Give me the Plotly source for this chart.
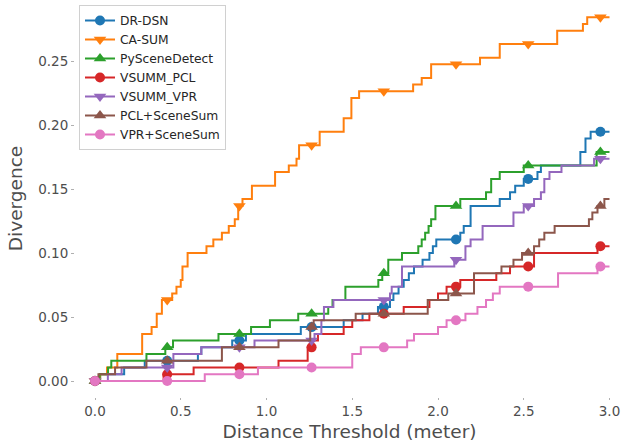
import numpy as np
import plotly.graph_objects as go

# Step curves: each series is a list of thresholds where the divergence
# changes and the divergence value held from that threshold onwards.
DRDSN_X = [0, 0.03, 0.17, 0.29, 0.60, 0.62, 0.80, 0.88, 1.20, 1.45, 1.56, 1.65, 1.72, 1.74,
           1.77, 1.80, 1.83, 1.86, 1.91, 1.95, 1.97, 1.99, 2.13, 2.15, 2.19, 2.36, 2.42, 2.45,
           2.50, 2.58, 2.60, 2.83, 2.86, 2.89, 3.0]
DRDSN_Y = [0, 0.0053, 0.0105, 0.0158, 0.0211, 0.0263, 0.0316, 0.0368, 0.0421, 0.0474, 0.0526,
           0.0579, 0.0632, 0.0684, 0.0737, 0.0789, 0.0842, 0.0895, 0.0947, 0.1, 0.1053, 0.1105,
           0.1158, 0.1211, 0.1368, 0.1421, 0.1474, 0.1526, 0.1579, 0.1632, 0.1684, 0.1789,
           0.1895, 0.1947, 0.1947]

CASUM_X = [0, 0.03, 0.07, 0.13, 0.275, 0.33, 0.36, 0.39, 0.45, 0.475, 0.5, 0.51, 0.54, 0.65,
           0.69, 0.74, 0.78, 0.815, 0.835, 0.86, 0.915, 1.05, 1.13, 1.175, 1.19, 1.31, 1.45,
           1.495, 1.54, 1.855, 1.905, 1.96, 2.245, 2.36, 2.695, 2.845, 2.87, 3.0]
CASUM_Y = [0, 0.0053, 0.0105, 0.0211, 0.0368, 0.0421, 0.0526, 0.0632, 0.0684, 0.0737, 0.0789,
           0.0895, 0.1, 0.1053, 0.1105, 0.1158, 0.1211, 0.1263, 0.1368, 0.1421, 0.1526, 0.1632,
           0.1684, 0.1737, 0.1842, 0.1947, 0.2053, 0.2211, 0.2263, 0.2316, 0.2368, 0.2474,
           0.2526, 0.2632, 0.2737, 0.2789, 0.2842, 0.2842]

PYSCENE_X = [0, 0.027, 0.076, 0.095, 0.30, 0.41, 0.455, 0.72, 0.91, 1.02, 1.185, 1.36, 1.385,
             1.46, 1.652, 1.675, 1.71, 1.79, 1.885, 1.905, 1.925, 1.945, 1.96, 1.985, 2.13,
             2.28, 2.31, 2.36, 2.5, 2.925, 3.0]
PYSCENE_Y = [0, 0.0053, 0.0105, 0.0158, 0.0211, 0.0263, 0.0316, 0.0368, 0.0421, 0.0474, 0.0526,
             0.0579, 0.0632, 0.0737, 0.0789, 0.0842, 0.0947, 0.1, 0.1053, 0.1105, 0.1158,
             0.1211, 0.1263, 0.1368, 0.1421, 0.1474, 0.1579, 0.1632, 0.1684, 0.1789, 0.1789]

VSPCL_X = [0, 0.40, 0.575, 1.07, 1.24, 1.27, 1.30, 1.45, 1.50, 1.60, 1.80, 1.95, 2.0, 2.05,
           2.13, 2.34, 2.42, 2.56, 2.93, 3.0]
VSPCL_Y = [0, 0.0053, 0.0105, 0.0158, 0.0263, 0.0316, 0.0368, 0.0421, 0.0474, 0.0526, 0.0579,
           0.0632, 0.0684, 0.0737, 0.0789, 0.0842, 0.0895, 0.1, 0.1053, 0.1053]

VSVPR_X = [0, 0.075, 0.155, 0.457, 0.62, 0.93, 1.28, 1.32, 1.335, 1.39, 1.72, 1.73, 1.79,
           2.095, 2.16, 2.19, 2.26, 2.44, 2.50, 2.56, 2.60, 2.62, 2.65, 2.72, 2.91, 3.0]
VSVPR_Y = [0, 0.0053, 0.0105, 0.0211, 0.0263, 0.0316, 0.0368, 0.0474, 0.0579, 0.0632, 0.0684,
           0.0737, 0.0895, 0.0947, 0.1053, 0.1105, 0.1211, 0.1316, 0.1368, 0.1421, 0.1474,
           0.1579, 0.1632, 0.1684, 0.1737, 0.1737]

PCLSS_X = [0, 0.02, 0.117, 0.30, 0.74, 1.07, 1.255, 1.275, 1.52, 1.94, 2.06, 2.21, 2.37, 2.44,
           2.49, 2.56, 2.59, 2.62, 2.68, 2.88, 2.90, 2.93, 2.97, 3.0]
PCLSS_Y = [0, 0.0053, 0.0105, 0.0158, 0.0263, 0.0316, 0.0421, 0.0474, 0.0526, 0.0632, 0.0684,
           0.0842, 0.0895, 0.0947, 0.1, 0.1053, 0.1105, 0.1158, 0.1211, 0.1263, 0.1316, 0.1368,
           0.1421, 0.1421]

VPRSS_X = [0, 0.64, 0.95, 1.50, 1.55, 1.82, 1.86, 2.0, 2.05, 2.16, 2.23, 2.28, 2.32, 2.36,
           2.70, 2.93, 3.0]
VPRSS_Y = [0, 0.0053, 0.0105, 0.0211, 0.0263, 0.0316, 0.0368, 0.0421, 0.0474, 0.0526, 0.0579,
           0.0632, 0.0684, 0.0737, 0.0842, 0.0895, 0.0895]

# thresholds at which markers are shown
MARK_X = [0, 0.421, 0.842, 1.263, 1.684, 2.105, 2.526, 2.947]

NAMES = ["DR-DSN", "CA-SUM", "PySceneDetect", "VSUMM_PCL", "VSUMM_VPR",
         "PCL+SceneSum", "VPR+SceneSum"]
SERIES_X = [DRDSN_X, CASUM_X, PYSCENE_X, VSPCL_X, VSVPR_X, PCLSS_X, VPRSS_X]
SERIES_Y = [DRDSN_Y, CASUM_Y, PYSCENE_Y, VSPCL_Y, VSVPR_Y, PCLSS_Y, VPRSS_Y]
COLORS = ["#1f77b4", "#ff7f0e", "#2ca02c", "#d62728", "#9467bd", "#8c564b", "#e377c2"]
SYMBOLS = ["circle", "triangle-down", "triangle-up", "circle", "triangle-down",
           "triangle-up", "circle"]
SIZES = [10, 11, 11, 10, 11, 11, 10]

FONT = "DejaVu Sans"

fig = go.Figure()

for name, xs, ys, col, sym, sz in zip(NAMES, SERIES_X, SERIES_Y, COLORS, SYMBOLS, SIZES):
    xs_a = np.asarray(xs, dtype=float)
    ys_a = np.asarray(ys, dtype=float)
    mx = np.asarray(MARK_X, dtype=float)
    idx = np.searchsorted(xs_a, mx, side="right") - 1
    my = ys_a[idx]
    fig.add_trace(go.Scatter(
        x=xs_a, y=ys_a, mode="lines", line=dict(color=col, width=2, shape="hv"),
        showlegend=False, legendgroup=name, hoverinfo="skip"))
    fig.add_trace(go.Scatter(
        x=mx, y=my, mode="markers",
        marker=dict(color=col, symbol=sym, size=sz, line=dict(width=0)),
        showlegend=False, legendgroup=name))
    # legend entry (line with marker)
    fig.add_trace(go.Scatter(
        x=[None], y=[None], mode="lines+markers", name=name, legendgroup=name,
        line=dict(color=col, width=2),
        marker=dict(color=col, symbol=sym, size=sz, line=dict(width=0))))

W, H = 624, 442
L, R, T, B = 75, 0, 0, 45
plot_w = W - L - R
plot_h = H - T - B
px_per_x = 171.5
px_per_y = 1280.0
x0 = -20 / px_per_x
x1 = x0 + plot_w / px_per_x
y0 = -(plot_h - 381) / px_per_y
y1 = y0 + plot_h / px_per_y

tick_font = dict(family=FONT, size=13.5, color="#4d4d4d")
title_font = dict(family=FONT, size=18.5, color="#4d4d4d")

fig.update_layout(
    width=W, height=H,
    margin=dict(l=L, r=R, t=T, b=B, pad=0),
    paper_bgcolor="white", plot_bgcolor="white",
    font=dict(family=FONT),
    showlegend=True,
    legend=dict(
        x=(79 - L) / plot_w, y=1 - 5 / plot_h,
        xanchor="left", yanchor="top",
        bgcolor="rgba(255,255,255,0.85)", bordercolor="#d0d0d0", borderwidth=1,
        font=dict(family=FONT, size=12.3, color="#262626"),
        tracegroupgap=0,
    ),
    xaxis=dict(
        range=[x0, x1], showgrid=False, zeroline=False, showline=False,
        tickmode="array", tickvals=[0, 0.5, 1.0, 1.5, 2.0, 2.5, 3.0],
        ticktext=["0.0", "0.5", "1.0", "1.5", "2.0", "2.5", "3.0"],
        ticks="outside", ticklen=2, tickwidth=1, tickcolor="#b0b0b0",
        tickfont=tick_font,
        title=dict(text="Distance Threshold (meter)", font=title_font, standoff=6),
    ),
    yaxis=dict(
        range=[y0, y1], showgrid=False, zeroline=False, showline=False,
        tickmode="array", tickvals=[0, 0.05, 0.10, 0.15, 0.20, 0.25],
        ticktext=["0.00", "0.05", "0.10", "0.15", "0.20", "0.25"],
        ticks="outside", ticklen=3, tickwidth=1, tickcolor="#b0b0b0",
        tickfont=tick_font,
        title=dict(text="Divergence", font=title_font, standoff=10),
    ),
)

fig.write_html("out.html")
